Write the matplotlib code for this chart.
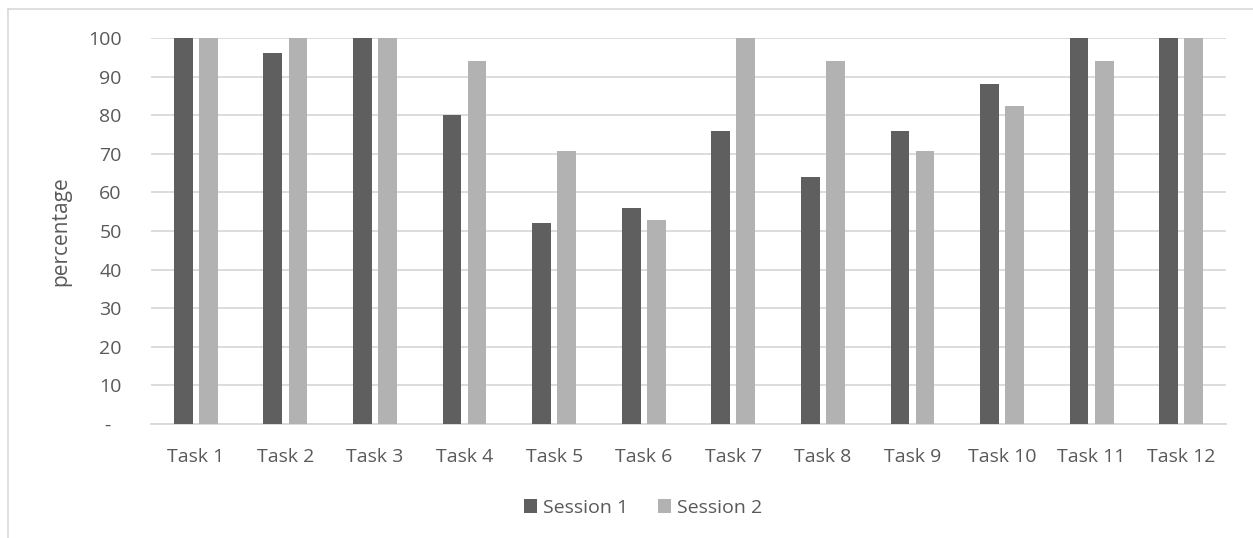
import numpy as np
import matplotlib.pyplot as plt
from matplotlib.lines import Line2D
from matplotlib.transforms import ScaledTranslation

tasks = ['Task %d' % i for i in range(1, 13)]
session1 = [100, 96, 100, 80, 52, 56, 76, 64, 76, 88, 100, 100]
session2 = [100, 100, 100, 94.1, 70.6, 52.9, 100, 94.1, 70.6, 82.4, 94.1, 100]
yticks = [0, 10, 20, 30, 40, 50, 60, 70, 80, 90, 100]
ylabels = ['-'] + [str(v) for v in yticks[1:]]

plt.rcParams['font.family'] = ['Open Sans', 'DejaVu Sans']
txt = '#595959'
fs = 14

fig = plt.figure(figsize=(12.53, 5.38), dpi=100)
ax = fig.add_axes([151 / 1253, 1 - 424 / 538, (1226 - 151) / 1253, (424 - 38) / 538])

x = np.arange(len(tasks))
w = 0.21
ax.bar(x - 0.14, session1, w, color='#5f5f5f', label='Session 1', zorder=3)
ax.bar(x + 0.14, session2, w, color='#b2b2b2', label='Session 2', zorder=3)

ax.set_xlim(-0.5, len(tasks) - 0.5)
ax.set_ylim(0, 100)
ax.set_yticks(yticks)
ax.set_yticklabels(ylabels)
ax.set_xticks(x)
ax.set_xticklabels(tasks)
ax.yaxis.grid(True, color='#d9d9d9', linewidth=1.3, zorder=0)
ax.set_axisbelow(True)
for s in ['top', 'right', 'left']:
    ax.spines[s].set_visible(False)
ax.spines['bottom'].set_color('#d9d9d9')
ax.spines['bottom'].set_linewidth(1.3)
ax.tick_params(length=0, labelsize=fs, colors=txt, pad=17)
ax.tick_params(axis='y', pad=21)
ax.set_ylabel('percentage', fontsize=fs + 1, color=txt)
ax.yaxis.set_label_coords(-0.074, 0.5)

# the zero label "-" sits a bit further left (accounting style)
lab0 = ax.yaxis.get_major_ticks()[0].label1
lab0.set_transform(lab0.get_transform() + ScaledTranslation(-8 / 72, 0, fig.dpi_scale_trans))

fig.legend(loc='center', bbox_to_anchor=(643 / 1253, 1 - 508 / 538), ncol=2, frameon=False,
           fontsize=fs, labelcolor=txt, handlelength=0.7, handleheight=0.7,
           handletextpad=0.3, columnspacing=1.5)

# chart border (top and left only; rest cut off)
fig.add_artist(Line2D([8 / 1253, 1], [1 - 9 / 538, 1 - 9 / 538], color='#d9d9d9', lw=1.2))
fig.add_artist(Line2D([8 / 1253, 8 / 1253], [0, 1 - 9 / 538], color='#d9d9d9', lw=1.2))

fig.savefig('out.png', dpi=100)
